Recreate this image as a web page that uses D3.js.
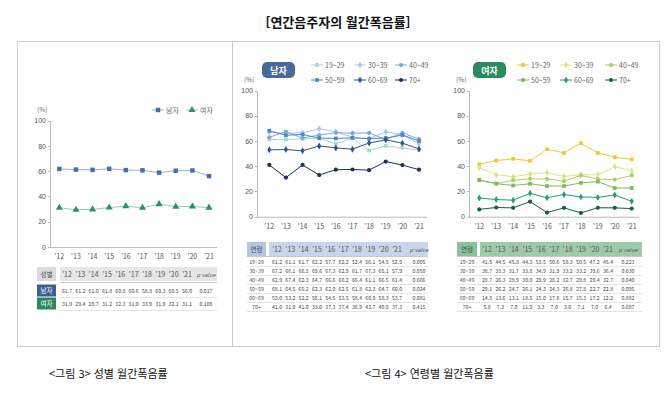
<!DOCTYPE html>
<html lang="ko">
<head>
<meta charset="UTF-8">
<title>연간음주자의 월간폭음률</title>
<script src="https://cdnjs.cloudflare.com/ajax/libs/d3/7.8.5/d3.min.js"></script>
<style>
    body { margin: 0; background: #fff; }
    svg { display: block; font-family: "Noto Sans CJK KR", "Noto Sans", sans-serif; }
    .axis path, .axis line { stroke: #bbb; shape-rendering: crispEdges; }
    .axis text { fill: #555; font-size: 7px; }
    .tbl { fill: #444; font-size: 5.2px; }
</style>
</head>
<body>
<script>
    // ---- data ----
    var years = ["'12", "'13", "'14", "'15", "'16", "'17", "'18", "'19", "'20", "'21"];
    var yTicks = [0, 20, 40, 60, 80, 100];

    var genders = ["남자", "여자"];
    var maleTotal = [61.7, 61.2, 61.0, 61.8, 60.8, 60.6, 58.8, 60.3, 60.5, 56.0];
    var femaleTotal = [31.0, 29.4, 29.7, 31.2, 32.3, 31.0, 33.9, 31.9, 32.1, 31.1];
    var genderP = ["0.017", "0.108"];

    var ageGroups = ["19~29", "30~39", "40~49", "50~59", "60~69", "70+"];
    var male19 = [61.2, 61.1, 61.7, 62.2, 57.7, 62.2, 52.4, 56.1, 54.5, 52.9];
    var male30 = [67.2, 66.1, 66.5, 69.6, 67.3, 62.9, 61.7, 67.3, 65.1, 57.9];
    var male40 = [62.9, 67.4, 62.3, 64.7, 66.6, 66.2, 66.4, 61.1, 66.5, 61.4];
    var male50 = [68.1, 64.5, 65.2, 62.3, 62.0, 62.5, 61.8, 62.3, 64.7, 60.0];
    var male60 = [53.0, 53.2, 52.2, 56.1, 54.5, 53.5, 58.4, 60.9, 58.3, 53.7];
    var male70 = [41.0, 31.0, 41.0, 33.0, 37.3, 37.4, 36.9, 43.7, 40.9, 37.3];
    var maleAgeP = ["0.005", "0.050", "0.666", "0.024", "0.081", "0.415"];

    var female19 = [41.5, 44.5, 45.8, 44.3, 53.5, 50.6, 58.3, 50.5, 47.2, 45.4];
    var female30 = [38.7, 33.3, 31.7, 33.8, 34.9, 31.9, 33.2, 33.2, 39.6, 36.4];
    var female40 = [28.7, 26.3, 28.9, 30.0, 29.9, 28.2, 32.7, 29.8, 29.4, 32.7];
    var female50 = [29.1, 26.2, 24.7, 26.1, 24.3, 24.3, 26.8, 27.8, 22.7, 22.8];
    var female60 = [14.8, 13.6, 13.1, 18.5, 15.0, 17.6, 15.7, 15.3, 17.2, 12.2];
    var female70 = [5.8, 7.3, 7.0, 11.9, 3.3, 7.0, 3.0, 7.1, 7.0, 6.4];
    var femaleAgeP = ["0.223", "0.630", "0.040", "0.095", "0.882", "0.687"];

    var svg = d3.select("body").append("svg")
        .attr("width", 664).attr("height", 398);

    // title, frame, captions
    svg.append("text").attr("x", 338).attr("y", 27).attr("text-anchor", "middle")
        .style("font-size", "13px").style("font-weight", "bold").style("fill", "#111")
        .text("[연간음주자의 월간폭음률]");
    svg.append("rect").attr("x", 17.5).attr("y", 41.5).attr("width", 642).attr("height", 305)
        .attr("fill", "none").attr("stroke", "#ccc");
    svg.append("line").attr("x1", 232.5).attr("x2", 232.5).attr("y1", 41.5).attr("y2", 346.5)
        .attr("stroke", "#ccc");
    svg.append("text").attr("x", 49).attr("y", 378).style("font-size", "11px").style("fill", "#111")
        .text("<그림 3> 성별 월간폭음률");
    svg.append("text").attr("x", 365).attr("y", 378).style("font-size", "11px").style("fill", "#111")
        .text("<그림 4> 연령별 월간폭음률");

    function sym(type, size) {
        return d3.symbol().type(type).size(size)();
    }

    function drawChart(o) {
        var x = d3.scalePoint().domain(years).range(o.xr);
        var y = d3.scaleLinear().domain([0, 100]).range(o.yr);
        var g = svg.append("g");

        g.append("g").attr("class", "axis")
            .attr("transform", "translate(" + o.axisX + ",0)")
            .call(d3.axisLeft(y).tickValues(yTicks).tickSize(3).tickPadding(2))
            .call(function(a) { a.select(".domain").attr("d", "M-0.5," + o.yr[1] + "V" + o.yr[0]); });
        g.append("line").attr("x1", o.axisX).attr("x2", o.xr[1] + 8)
            .attr("y1", o.yr[0] + 0.5).attr("y2", o.yr[0] + 0.5).attr("stroke", "#bbb");
        g.selectAll(".xl").data(years).enter().append("text")
            .attr("x", function(d) { return x(d); }).attr("y", o.yr[0] + 12)
            .attr("text-anchor", "middle").style("font-size", "7px").style("fill", "#555")
            .text(function(d) { return d; });
        g.append("text").attr("x", o.axisX - 14).attr("y", o.yr[1] - 9)
            .style("font-size", "6.5px").style("fill", "#666").text("(%)");

        var line = d3.line().x(function(d, i) { return x(years[i]); }).y(function(d) { return y(d); });
        o.series.forEach(function(s) {
            g.append("path").datum(s.values).attr("d", line).attr("fill", "none")
                .attr("stroke", s.line).attr("stroke-width", 1);
            g.selectAll(null).data(s.values).enter().append("path")
                .attr("d", sym(s.symbol, s.size))
                .attr("transform", function(d, i) { return "translate(" + x(years[i]) + "," + y(d) + ")"; })
                .attr("fill", s.color);
        });
    }

    function drawLegendItem(px, py, s, label) {
        svg.append("line").attr("x1", px).attr("x2", px + 12).attr("y1", py).attr("y2", py)
            .attr("stroke", s.line);
        svg.append("path").attr("d", sym(s.symbol, s.size))
            .attr("transform", "translate(" + (px + 6) + "," + py + ")").attr("fill", s.color);
        svg.append("text").attr("x", px + 14).attr("y", py + 2.5)
            .style("font-size", "7px").style("fill", "#666").text(label);
    }

    function drawBadge(bx, label, color) {
        svg.append("rect").attr("x", bx).attr("y", 62).attr("width", 33).attr("height", 16)
            .attr("rx", 5).attr("fill", color);
        svg.append("text").attr("x", bx + 16.5).attr("y", 73.5).attr("text-anchor", "middle")
            .style("font-size", "9px").style("font-weight", "bold").style("fill", "#fff").text(label);
    }

    function drawTable(o) {
        var g = svg.append("g");
        var col = d3.scalePoint().domain(years).range([o.c0, o.c1]);
        // header
        g.append("rect").attr("x", o.labX).attr("y", o.top).attr("width", o.labW).attr("height", o.headH)
            .attr("fill", o.labFill);
        g.append("rect").attr("x", o.bandX).attr("y", o.top).attr("width", o.bandW).attr("height", o.headH)
            .attr("fill", o.headFill);
        var hy = o.top + o.headH / 2 + 2.5;
        g.append("text").attr("x", o.labX + o.labW / 2).attr("y", hy).attr("text-anchor", "middle")
            .style("font-size", "6.5px").style("fill", o.labText).text(o.head);
        g.selectAll(null).data(years).enter().append("text")
            .attr("x", function(d) { return col(d); }).attr("y", hy).attr("text-anchor", "middle")
            .style("font-size", "7px").style("fill", "#555").text(function(d) { return d; });
        g.append("text").attr("x", o.pX).attr("y", hy).attr("text-anchor", "middle")
            .style("font-size", "5.5px").style("font-style", "italic").style("fill", "#555").text("p-value");

        var rowTop = o.top + o.headH + o.gap;
        o.rows.forEach(function(r, i) {
            var ry = rowTop + i * o.rowH;
            if (r.fill) {
                g.append("rect").attr("x", o.labX).attr("y", ry + 0.5).attr("width", o.labW)
                    .attr("height", o.rowH - 1).attr("fill", r.fill);
            }
            g.append("text").attr("x", o.labX + o.labW / 2).attr("y", ry + o.rowH / 2 + 2)
                .attr("text-anchor", "middle").style("font-size", r.fill ? "6.5px" : "5.3px")
                .style("fill", r.fill ? "#fff" : "#555").text(r.label);
            g.selectAll(null).data(r.values).enter().append("text")
                .attr("class", "tbl")
                .attr("x", function(d, j) { return col(years[j]); }).attr("y", ry + o.rowH / 2 + 2)
                .attr("text-anchor", "middle").text(function(d) { return d.toFixed(1); });
            g.append("text").attr("class", "tbl").attr("x", o.pX).attr("y", ry + o.rowH / 2 + 2)
                .attr("text-anchor", "middle").text(r.p);
            g.append("line").attr("x1", o.lineX0).attr("x2", o.bandX + o.bandW)
                .attr("y1", ry + o.rowH + 0.5).attr("y2", ry + o.rowH + 0.5)
                .attr("stroke", "#ddd").attr("stroke-width", 0.8);
        });
        g.append("line").attr("x1", o.lineX0).attr("x2", o.bandX + o.bandW)
            .attr("y1", rowTop - o.gap / 2).attr("y2", rowTop - o.gap / 2)
            .attr("stroke", "#bbb").attr("stroke-width", 0.8);
    }

    // ---- left: by gender ----
    var sMale = { values: maleTotal, color: "#4a6da5", line: "#9bb3d6", symbol: d3.symbolSquare, size: 20 };
    var sFemale = { values: femaleTotal, color: "#22986a", line: "#8fd0b4", symbol: d3.symbolTriangle, size: 22 };
    drawChart({ xr: [59.3, 209], yr: [247, 120.5], axisX: 51, series: [sMale, sFemale] });
    drawLegendItem(152, 110, sMale, genders[0]);
    drawLegendItem(186, 110, sFemale, genders[1]);
    drawTable({
        top: 267, headH: 14, gap: 3, rowH: 13, labX: 37, labW: 19, bandX: 60, bandW: 157,
        c0: 67, c1: 187, pX: 206, lineX0: 60, head: "성별", labFill: "#dcdcdc", headFill: "#e6e6e6",
        labText: "#555",
        rows: [
            { label: genders[0], values: maleTotal, p: genderP[0], fill: "#3e5f96" },
            { label: genders[1], values: femaleTotal, p: genderP[1], fill: "#2a8a5e" }
        ]
    });

    // ---- middle: male by age ----
    var maleColors = ["#a6dccf", "#a8c7e6", "#7ba8d8", "#4a8ac6", "#2f5288", "#1f2f5e"];
    var femaleColors = ["#f0c832", "#d7e77e", "#a9d162", "#7fba62", "#1fa06c", "#166140"];
    var shapes = [d3.symbolSquare, d3.symbolDiamond, d3.symbolCircle, d3.symbolSquare, d3.symbolDiamond, d3.symbolCircle];
    var maleData = [male19, male30, male40, male50, male60, male70];
    var femaleData = [female19, female30, female40, female50, female60, female70];

    function ageSeries(data, colors) {
        return data.map(function(v, i) {
            return { values: v, color: colors[i], line: colors[i], symbol: shapes[i], size: 14 };
        });
    }
    var maleSeries = ageSeries(maleData, maleColors);
    var femaleSeries = ageSeries(femaleData, femaleColors);

    drawBadge(262, "남자", "#4a6a9c");
    drawChart({ xr: [269.3, 419], yr: [216.7, 90.5], axisX: 258, series: maleSeries });
    drawBadge(473, "여자", "#2a8c5e");
    drawChart({ xr: [479.3, 631.7], yr: [216.7, 90.5], axisX: 470, series: femaleSeries });

    var legCols = [0, 43, 84];
    ageGroups.forEach(function(a, i) {
        var cx = legCols[i % 3], cy = i < 3 ? 65 : 80;
        drawLegendItem(311 + cx, cy, maleSeries[i], a);
        drawLegendItem(517 + cx + (i % 3 === 2 ? 4 : 0), cy, femaleSeries[i], a);
    });

    var ageRowsM = ageGroups.map(function(a, i) { return { label: a, values: maleData[i], p: maleAgeP[i] }; });
    var ageRowsF = ageGroups.map(function(a, i) { return { label: a, values: femaleData[i], p: femaleAgeP[i] }; });
    drawTable({
        top: 242, headH: 14, gap: 1, rowH: 9, labX: 247, labW: 19, bandX: 269, bandW: 159,
        c0: 277, c1: 397, pX: 419, lineX0: 247, head: "연령", labFill: "#b6c5dd", headFill: "#c8d5ea",
        labText: "#3d4f70", rows: ageRowsM
    });
    drawTable({
        top: 242, headH: 14, gap: 1, rowH: 9, labX: 457, labW: 20, bandX: 480, bandW: 162,
        c0: 487, c1: 608, pX: 628, lineX0: 457, head: "연령", labFill: "#8dbf9d", headFill: "#9fcaaa",
        labText: "#2e5a3c", rows: ageRowsF
    });
</script>
</body>
</html>
